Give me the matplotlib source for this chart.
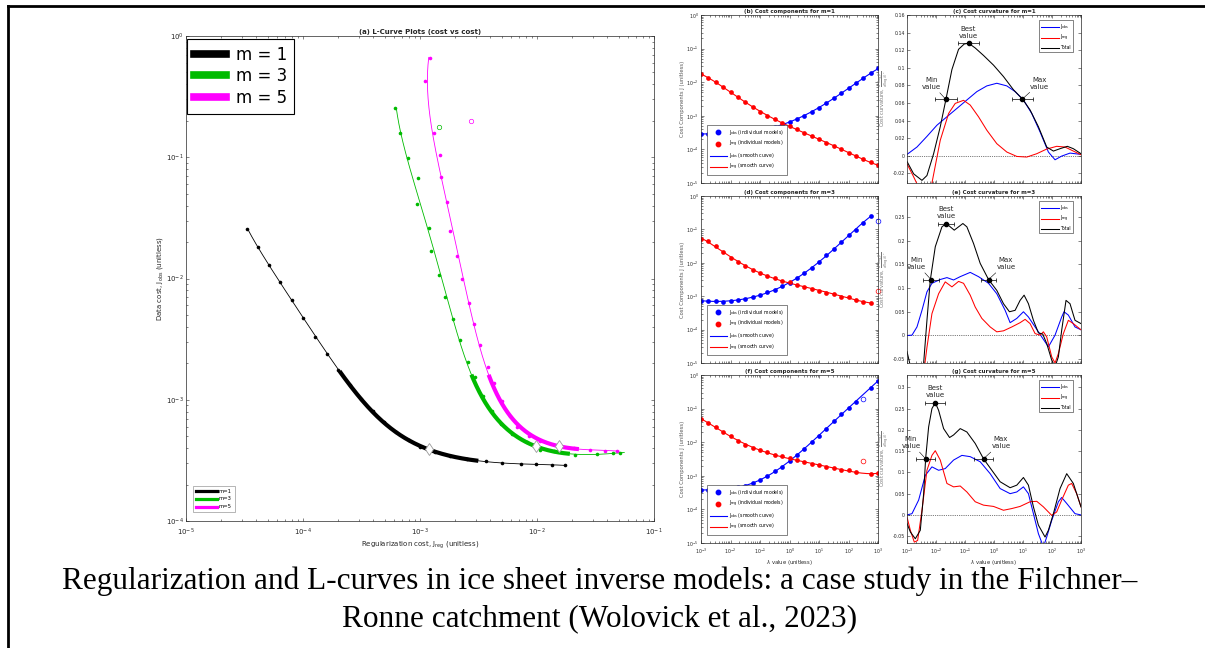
import numpy as np
import matplotlib
matplotlib.use("Agg")
import matplotlib.pyplot as plt
from matplotlib.lines import Line2D
from matplotlib.ticker import LogLocator, NullFormatter, FixedLocator, FixedFormatter

W, H = 1205, 648

# ===================== DATA (log10 values) =====================
lam_log = [-3.0, -2.75, -2.5, -2.25, -2.0, -1.75, -1.5, -1.25, -1.0, -0.75, -0.5, -0.25,
           0.0, 0.25, 0.5, 0.75, 1.0, 1.25, 1.5, 1.75, 2.0, 2.25, 2.5, 2.75, 3.0]

# m = 1
m1_lam = lam_log
m1_jreg = [-1.758, -1.875, -2.006, -2.134, -2.299, -2.439, -2.598, -2.741, -2.875, -2.997,
           -3.097, -3.205, -3.305, -3.405, -3.504, -3.601, -3.698, -3.798, -3.897, -3.997,
           -4.094, -4.194, -4.291, -4.385, -4.476]
m1_jobs = [-3.540, -3.537, -3.534, -3.532, -3.523, -3.507, -3.490, -3.463, -3.430, -3.386,
           -3.329, -3.266, -3.186, -3.090, -2.995, -2.879, -2.756, -2.622, -2.479, -2.326,
           -2.175, -2.030, -1.888, -1.740, -1.592]

# m = 3 (model at lambda = 1e3 is an outlier)
m3_lam = lam_log[:24]
m3_jreg = [-1.288, -1.350, -1.487, -1.672, -1.858, -1.977, -2.085, -2.214, -2.308, -2.385,
           -2.462, -2.533, -2.587, -2.655, -2.721, -2.789, -2.835, -2.906, -2.920, -3.026,
           -3.014, -3.105, -3.168, -3.211]
m3_jobs = [-3.438, -3.441, -3.447, -3.455, -3.425, -3.414, -3.351, -3.282, -3.200, -3.096,
           -2.967, -2.811, -2.685, -2.510, -2.332, -2.153, -1.975, -1.775, -1.584, -1.384,
           -1.173, -1.008, -0.803, -0.597]
m3_comp_jobs = [-3.140, -3.140, -3.150, -3.160, -3.140, -3.120, -3.080, -3.030, -2.960, -2.880,
                -2.800, -2.700, -2.600, -2.470, -2.320, -2.153, -1.975, -1.775, -1.584, -1.384,
                -1.173, -1.008, -0.803, -0.597]
m3_out_lam, m3_out_jreg, m3_out_jobs = 3.0, -2.84, -0.75

# m = 5 (model at lambda = 10^2.5 is an outlier)
m5_lam = lam_log[:22] + lam_log[23:]
m5_jreg = [-1.316, -1.416, -1.544, -1.687, -1.830, -1.972, -2.071, -2.171, -2.228, -2.299,
           -2.370, -2.422, -2.484, -2.541, -2.584, -2.641, -2.684, -2.741, -2.769, -2.821,
           -2.832, -2.883, -2.960, -2.917]
m5_jobs = [-3.425, -3.419, -3.411, -3.400, -3.375, -3.342, -3.296, -3.222, -3.132, -3.008,
           -2.858, -2.729, -2.551, -2.378, -2.200, -2.000, -1.811, -1.611, -1.367, -1.159,
           -0.981, -0.803, -0.373, -0.178]
m5_out_lam, m5_out_jreg, m5_out_jobs = 2.5, -2.56, -0.70

# curvature curves (log10 lambda, value)
c_tot_lam = [-3.000, -2.771, -2.484, -2.312, -2.082, -1.853, -1.658, -1.451, -1.222, -1.027, -0.878,
             -0.648, -0.361, -0.017, 0.327, 0.671, 0.981, 1.245, 1.531, 1.818, 2.048, 2.277, 2.529,
             2.736, 3.000]
c_tot = [-0.0065, -0.0206, -0.028, -0.0225, 0.0023, 0.033, 0.064, 0.098, 0.121, 0.127, 0.128,
         0.1225, 0.114, 0.103, 0.090, 0.075, 0.0645, 0.052, 0.033, 0.0099, 0.0053, 0.008, 0.0107,
         0.008, 0.0023]
c_obs_lam = [-3.000, -2.656, -2.312, -1.968, -1.623, -1.279, -0.935, -0.591, -0.247, 0.097, 0.442,
             0.728, 1.015, 1.302, 1.589, 1.876, 2.105, 2.334, 2.621, 3.000]
c_obs = [0.0015, 0.0099, 0.022, 0.0347, 0.0443, 0.0538, 0.0634, 0.0729, 0.0794, 0.0824, 0.0794,
         0.0729, 0.0634, 0.048, 0.027, 0.0042, -0.0046, -0.0004, 0.003, 0.0015]
c_reg_lam = [-3.000, -2.771, -2.598, -2.312, -2.140, -1.853, -1.566, -1.337, -1.050, -0.820, -0.534,
             -0.247, 0.097, 0.442, 0.786, 1.130, 1.474, 1.818, 2.162, 2.449, 2.736, 3.000]
c_reg = [-0.0092, -0.024, -0.036, -0.05, -0.031, 0.0176, 0.048, 0.0595, 0.063, 0.0576, 0.0443,
         0.029, 0.0137, 0.0042, -0.0008, -0.0015, 0.0023, 0.0076, 0.0107, 0.0099, 0.0053, 0.0011]

e_tot_lam = [-3.000, -2.908, -2.713, -2.541, -2.426, -2.312, -2.197, -2.025, -1.795, -1.646, -1.509,
             -1.371, -1.222, -1.073, -0.935, -0.706, -0.476, -0.189, 0.097, 0.327, 0.533, 0.728,
             0.900, 1.038, 1.187, 1.359, 1.531, 1.680, 1.818, 1.990, 2.105, 2.220, 2.334, 2.483,
             2.621, 2.793, 3.000]
e_tot = [-0.034, -0.058, -0.100, -0.108, -0.058, 0.032, 0.1166, 0.187, 0.229, 0.236, 0.229, 0.222,
         0.229, 0.236, 0.229, 0.194, 0.152, 0.118, 0.095, 0.067, 0.050, 0.053, 0.074, 0.085, 0.067,
         0.032, 0.0056, 0.003, -0.017, -0.052, -0.066, -0.045, 0.011, 0.074, 0.067, 0.032, 0.025]
e_obs_lam = [-3.000, -2.828, -2.656, -2.484, -2.312, -2.140, -1.853, -1.623, -1.394, -1.165, -0.820,
             -0.534, -0.189, 0.097, 0.384, 0.556, 0.786, 1.015, 1.187, 1.417, 1.646, 1.876, 2.105,
             2.334, 2.415, 2.564, 2.793, 3.000]
e_obs = [0.0, 0.0007, 0.018, 0.053, 0.092, 0.110, 0.118, 0.122, 0.117, 0.124, 0.133, 0.124, 0.110,
         0.088, 0.053, 0.027, 0.036, 0.050, 0.039, 0.018, -0.003, -0.024, 0.0007, 0.039, 0.050,
         0.043, 0.018, 0.012]
e_reg_lam = [-3.000, -2.713, -2.484, -2.312, -2.140, -1.910, -1.681, -1.451, -1.222, -1.050, -0.820,
             -0.648, -0.419, -0.132, 0.097, 0.327, 0.614, 0.900, 1.073, 1.245, 1.417, 1.589, 1.703,
             1.818, 1.990, 2.105, 2.220, 2.392, 2.564, 2.736, 3.000]
e_reg = [-0.094, -0.164, -0.108, -0.025, 0.046, 0.088, 0.113, 0.1025, 0.114, 0.110, 0.085, 0.060,
         0.036, 0.018, 0.0077, 0.0098, 0.018, 0.027, 0.034, 0.025, 0.004, 0.0007, 0.0077, -0.003,
         -0.045, -0.058, -0.038, 0.004, 0.032, 0.025, 0.012]

g_tot_lam = [-3.000, -2.885, -2.713, -2.541, -2.426, -2.358, -2.254, -2.140, -2.025, -1.910, -1.738,
             -1.532, -1.394, -1.165, -0.935, -0.648, -0.361, -0.075, 0.212, 0.556, 0.786, 1.015,
             1.187, 1.359, 1.531, 1.761, 1.876, 2.048, 2.277, 2.507, 2.736, 3.000]
g_tot = [-0.020, -0.040, -0.056, -0.036, 0.050, 0.132, 0.207, 0.250, 0.264, 0.246, 0.203, 0.182,
         0.188, 0.203, 0.195, 0.168, 0.132, 0.105, 0.078, 0.064, 0.070, 0.088, 0.070, 0.019, -0.024,
         -0.052, -0.036, 0.003, 0.062, 0.097, 0.074, 0.019]
g_obs_lam = [-3.000, -2.828, -2.598, -2.369, -2.140, -1.910, -1.681, -1.394, -1.107, -0.820, -0.476,
             -0.132, 0.212, 0.556, 0.786, 1.015, 1.187, 1.359, 1.531, 1.703, 1.818, 1.990, 2.220,
             2.334, 2.507, 2.793, 3.000]
g_obs = [0.0, 0.003, 0.035, 0.093, 0.113, 0.105, 0.109, 0.129, 0.140, 0.137, 0.125, 0.097, 0.062,
         0.050, 0.054, 0.066, 0.050, 0.003, -0.044, -0.075, -0.052, -0.013, 0.031, 0.041, 0.027,
         0.003, 0.0]
g_reg_lam = [-3.000, -2.885, -2.748, -2.633, -2.484, -2.312, -2.140, -2.025, -1.853, -1.623, -1.394,
             -1.165, -0.935, -0.648, -0.361, -0.017, 0.327, 0.614, 0.900, 1.245, 1.474, 1.703, 1.990,
             2.162, 2.334, 2.564, 2.679, 2.851, 3.000]
g_reg = [-0.005, -0.036, -0.064, -0.060, 0.011, 0.105, 0.140, 0.151, 0.129, 0.074, 0.066, 0.068,
         0.054, 0.031, 0.023, 0.020, 0.011, 0.015, 0.020, 0.031, 0.032, 0.019, -0.001, 0.007, 0.035,
         0.070, 0.074, 0.050, 0.019]

# selected lambda values (log10) : min, best, max  and curvature value, error half width (decades)
sel_min_lam = [-1.658, -2.174, -2.358]
sel_min_val = [0.064, 0.118, 0.132]
sel_best_lam = [-0.878, -1.646, -2.025]
sel_best_val = [0.128, 0.236, 0.264]
sel_max_lam = [0.981, -0.189, -0.361]
sel_max_val = [0.0645, 0.118, 0.132]
sel_err = [0.37, 0.27, 0.34]

curv_ylim = [(-0.031, 0.16), (-0.058, 0.294), (-0.066, 0.329)]
curv_ticks = [[-0.02, 0, 0.02, 0.04, 0.06, 0.08, 0.1, 0.12, 0.14, 0.16],
              [-0.05, 0, 0.05, 0.1, 0.15, 0.2, 0.25],
              [-0.05, 0, 0.05, 0.1, 0.15, 0.2, 0.25, 0.3]]
curv_ticklabels = [['-0.02', '0', '0.02', '0.04', '0.06', '0.08', '0.1', '0.12', '0.14', '0.16'],
                   ['-0.05', '0', '0.05', '0.1', '0.15', '0.2', '0.25'],
                   ['-0.05', '0', '0.05', '0.1', '0.15', '0.2', '0.25', '0.3']]

m_labels = ['m = 1', 'm = 3', 'm = 5']
m_short = ['m=1', 'm=3', 'm=5']
m_colors = ['#000000', '#00BB00', '#FF00FF']
caption1 = "Regularization and L-curves in ice sheet inverse models: a case study in the Filchner\u2013"
caption2 = "Ronne catchment (Wolovick et al., 2023)"

# ===================== FIGURE =====================
fig = plt.figure(figsize=(W / 100, H / 100), dpi=100)
AX_COL = '#262626'


def rect(l, t, r, b):
    return [l / W, 1 - b / H, (r - l) / W, (b - t) / H]


def style(ax, ls=3.6, logx=True, logy=True, xpad=2.5):
    ax.tick_params(which='both', direction='in', top=True, right=True, colors=AX_COL,
                   labelsize=ls, width=0.4, pad=1.5)
    ax.tick_params(axis='x', which='both', pad=xpad)
    ax.tick_params(which='major', length=2.5)
    ax.tick_params(which='minor', length=1.4)
    for s in ax.spines.values():
        s.set_linewidth(0.5)
        s.set_color(AX_COL)
    if logx:
        ax.xaxis.set_major_locator(LogLocator(base=10, numticks=20))
        ax.xaxis.set_minor_locator(LogLocator(base=10, subs=np.arange(2, 10), numticks=100))
        ax.xaxis.set_minor_formatter(NullFormatter())
    if logy:
        ax.yaxis.set_major_locator(LogLocator(base=10, numticks=20))
        ax.yaxis.set_minor_locator(LogLocator(base=10, subs=np.arange(2, 10), numticks=100))
        ax.yaxis.set_minor_formatter(NullFormatter())


def fit(lam, vals, deg=5):
    return np.polyfit(np.asarray(lam), np.asarray(vals), deg)


# ---------- panel (a) ----------
axA = fig.add_axes(rect(186, 36, 654, 521))
axA.set_xscale('log')
axA.set_yscale('log')
style(axA, ls=5.0, xpad=4)
axA.set_xlim(1e-5, 1e-1)
axA.set_ylim(1e-4, 1e0)
axA.set_title('(a) L-Curve Plots (cost vs cost)', fontsize=5.0, fontweight='bold', pad=1.5,
              color=AX_COL)
axA.set_xlabel(r'Regularization cost, J$_{\rm reg}$ (unitless)', fontsize=5.0, color=AX_COL,
               labelpad=1)
axA.set_ylabel(r'Data cost, J$_{\rm obs}$ (unitless)', fontsize=5.0, color=AX_COL, labelpad=1)

series = [(m1_lam, m1_jreg, m1_jobs, None),
          (m3_lam, m3_jreg, m3_jobs, (m3_out_jreg, m3_out_jobs)),
          (m5_lam, m5_jreg, m5_jobs, (m5_out_jreg, m5_out_jobs))]
for i, (lam, jr, jo, out) in enumerate(series):
    col = m_colors[i]
    pr, po = fit(lam, jr), fit(lam, jo)
    grid = np.linspace(min(lam), max(lam), 400)
    axA.plot(10 ** np.polyval(pr, grid), 10 ** np.polyval(po, grid), color=col, lw=0.6)
    axA.plot(10 ** np.array(jr), 10 ** np.array(jo), 'o', color=col, ms=2.6, mew=0)
    thick = np.linspace(sel_min_lam[i], sel_max_lam[i], 200)
    axA.plot(10 ** np.polyval(pr, thick), 10 ** np.polyval(po, thick), color=col, lw=3.0,
             solid_capstyle='butt')
    b = sel_best_lam[i]
    axA.plot(10 ** np.polyval(pr, b), 10 ** np.polyval(po, b), 'd', ms=6.5, mfc='white',
             mec='#999999', mew=0.6)
    if out is not None:
        axA.plot(10 ** out[0], 10 ** out[1], 'o', ms=3.2, mfc='none', mec=col, mew=0.5)

big_h = [Line2D([], [], color=c, lw=5.5) for c in m_colors]
leg1 = axA.legend(big_h, m_labels, loc='upper left', bbox_to_anchor=(0.002, 0.994),
                  borderaxespad=0, fontsize=12, fancybox=False, edgecolor='k', framealpha=1,
                  handlelength=1.9, handletextpad=0.6, labelspacing=0.2, borderpad=0.42)
leg1.get_frame().set_linewidth(0.8)
axA.add_artist(leg1)
small_h = [Line2D([], [], color=c, lw=2.3) for c in m_colors]
leg2 = axA.legend(small_h, m_short, loc='lower left', bbox_to_anchor=(7 / 468, 9 / 485),
                  borderaxespad=0, fontsize=3.8, fancybox=False, edgecolor='#999999',
                  framealpha=1, handlelength=4.0, handletextpad=0.4, labelspacing=0.55,
                  borderpad=0.5)
leg2.get_frame().set_linewidth(0.5)

# ---------- panels (b), (d), (f) ----------
comp_rows = [(15, 183), (196, 363), (375, 543)]
comp_titles = ['(b) Cost components for m=1', '(d) Cost components for m=3',
               '(f) Cost components for m=5']
comp_data = [(m1_lam, m1_jobs, m1_jreg, None),
             (m3_lam, m3_comp_jobs, m3_jreg, (m3_out_lam, m3_out_jobs, m3_out_jreg)),
             (m5_lam, m5_jobs, m5_jreg, (m5_out_lam, m5_out_jobs, m5_out_jreg))]
BLUE, RED = '#0000FF', '#FF0000'
for i, (t, bt) in enumerate(comp_rows):
    ax = fig.add_axes(rect(701, t, 878, bt))
    ax.set_xscale('log')
    ax.set_yscale('log')
    style(ax, ls=3.4, xpad=3.0)
    ax.set_xlim(1e-3, 1e3)
    ax.set_ylim(1e-5, 1e0)
    lam, jo, jr, out = comp_data[i]
    grid = np.linspace(min(lam), max(lam), 400)
    ax.plot(10 ** grid, 10 ** np.polyval(fit(lam, jo), grid), color=BLUE, lw=0.8)
    ax.plot(10 ** grid, 10 ** np.polyval(fit(lam, jr), grid), color=RED, lw=0.8)
    ax.plot(10 ** np.array(lam), 10 ** np.array(jo), 'o', color=BLUE, ms=3.4, mew=0)
    ax.plot(10 ** np.array(lam), 10 ** np.array(jr), 'o', color=RED, ms=3.4, mew=0)
    if out is not None:
        ax.plot(10 ** out[0], 10 ** out[1], 'o', ms=3.4, mfc='none', mec=BLUE, mew=0.5,
                clip_on=False)
        ax.plot(10 ** out[0], 10 ** out[2], 'o', ms=3.4, mfc='none', mec=RED, mew=0.5,
                clip_on=False)
    ax.set_title(comp_titles[i], fontsize=4.0, fontweight='bold', pad=1.2, color=AX_COL)
    ax.set_ylabel('Cost Components J (unitless)', fontsize=3.8, color='#555555', labelpad=1)
    if i < 2:
        ax.tick_params(labelbottom=False)
    else:
        ax.set_xlabel(r'$\lambda$ value (unitless)', fontsize=3.8, color=AX_COL, labelpad=1)
    hs = [Line2D([], [], ls='none', marker='o', color=BLUE, ms=3.2),
          Line2D([], [], ls='none', marker='o', color=RED, ms=3.2),
          Line2D([], [], color=BLUE, lw=0.8), Line2D([], [], color=RED, lw=0.8)]
    ls_ = [r'J$_{\rm obs}$ (individual models)', r'J$_{\rm reg}$ (individual models)',
           r'J$_{\rm obs}$ (smooth curve)', r'J$_{\rm reg}$ (smooth curve)']
    lg = ax.legend(hs, ls_, loc='lower left', bbox_to_anchor=(6 / 177, 8 / 168),
                   borderaxespad=0, fontsize=3.3, fancybox=False, edgecolor=AX_COL,
                   framealpha=1, handlelength=3.9, handletextpad=0.4, labelspacing=0.45,
                   borderpad=0.55)
    lg.get_frame().set_linewidth(0.4)

# ---------- panels (c), (e), (g) ----------
curv_titles = ['(c) Cost curvature for m=1', '(e) Cost curvature for m=3',
               '(g) Cost curvature for m=5']
curv_data = [(c_obs_lam, c_obs, c_reg_lam, c_reg, c_tot_lam, c_tot),
             (e_obs_lam, e_obs, e_reg_lam, e_reg, e_tot_lam, e_tot),
             (g_obs_lam, g_obs, g_reg_lam, g_reg, g_tot_lam, g_tot)]
for i, (t, bt) in enumerate(comp_rows):
    ax = fig.add_axes(rect(907, t, 1081, bt))
    ax.set_xscale('log')
    style(ax, ls=3.4, logy=False, xpad=3.0)
    ax.set_xlim(1e-3, 1e3)
    ax.set_ylim(*curv_ylim[i])
    ax.yaxis.set_major_locator(FixedLocator(curv_ticks[i]))
    ax.yaxis.set_major_formatter(FixedFormatter(curv_ticklabels[i]))
    ol, ov, rl, rv, tl, tv = curv_data[i]
    ax.axhline(0, color='k', ls=':', lw=0.5)
    ax.plot(10 ** np.array(ol), ov, color=BLUE, lw=0.75, label=r'J$_{\rm obs}$')
    ax.plot(10 ** np.array(rl), rv, color=RED, lw=0.75, label=r'J$_{\rm reg}$')
    ax.plot(10 ** np.array(tl), tv, color='k', lw=0.75, label='Total')
    for lamv, val, txt, off, va in [(sel_min_lam[i], sel_min_val[i], 'Min\nvalue', (-10.5, 11.5), 'center'),
                                    (sel_best_lam[i], sel_best_val[i], 'Best\nvalue', (0, 3.0), 'bottom'),
                                    (sel_max_lam[i], sel_max_val[i], 'Max\nvalue', (12.5, 11.5), 'center')]:
        x = 10 ** lamv
        ax.errorbar([x], [val], xerr=[[x - 10 ** (lamv - sel_err[i])], [10 ** (lamv + sel_err[i]) - x]],
                    fmt='o', color='k', ms=3.0, elinewidth=0.5, capsize=1.5, capthick=0.5, zorder=5)
        if va == 'bottom':
            ax.annotate(txt, (x, val), xytext=off, textcoords='offset points', ha='center',
                        va='bottom', fontsize=5.0, multialignment='center', color=AX_COL)
        else:
            ax.annotate(txt, (x, val), xytext=off, textcoords='offset points', ha='center',
                        va='center', fontsize=5.0, multialignment='center', color=AX_COL,
                        arrowprops=dict(arrowstyle='-', color='k', lw=0.4, shrinkA=0, shrinkB=0))
    ax.set_title(curv_titles[i], fontsize=4.0, fontweight='bold', pad=1.2, color=AX_COL)
    ax.set_ylabel(r'Cost curvature, $\frac{d^2(\log J)}{d(\log \lambda)^2}$', fontsize=3.6,
                  color='#777777', labelpad=1)
    if i < 2:
        ax.tick_params(labelbottom=False)
    else:
        ax.set_xlabel(r'$\lambda$ value (unitless)', fontsize=3.8, color=AX_COL, labelpad=1)
    lg = ax.legend(loc='upper right', bbox_to_anchor=(1 - 8 / 174, 1 - 5 / 168), borderaxespad=0,
                   fontsize=3.3, fancybox=False, edgecolor=AX_COL, framealpha=1,
                   handlelength=3.9, handletextpad=0.3, labelspacing=0.4, borderpad=0.5)
    lg.get_frame().set_linewidth(0.4)

# ---------- caption and border ----------
fig.text(600 / W, 1 - 581 / H, caption1, ha='center', va='center', fontsize=22.5,
         family='Liberation Serif')
fig.text(600 / W, 1 - 619 / H, caption2, ha='center', va='center', fontsize=22.5,
         family='Liberation Serif')
fig.add_artist(Line2D([8 / W, 1], [1 - 6 / H, 1 - 6 / H], color='k', lw=2.0,
                      transform=fig.transFigure))
fig.add_artist(Line2D([8 / W, 8 / W], [0, 1 - 6 / H], color='k', lw=2.0,
                      transform=fig.transFigure))

fig.savefig('out.png', dpi=100)
